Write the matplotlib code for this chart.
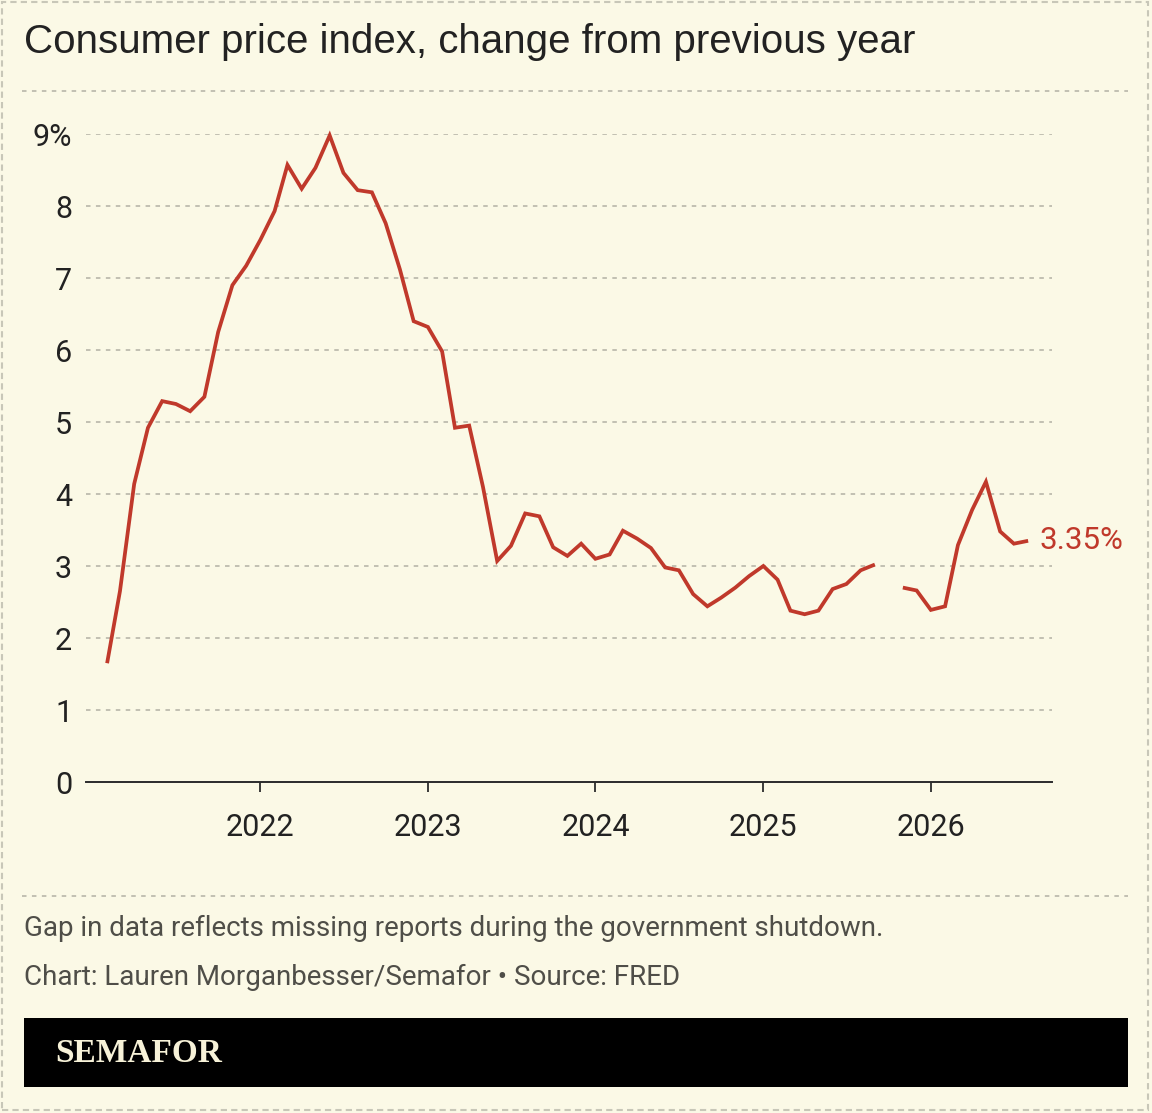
import numpy as np
import pandas as pd
import matplotlib
matplotlib.use("Agg")
import matplotlib.pyplot as plt
from matplotlib.lines import Line2D
from matplotlib.patches import Rectangle

# ---------------- data ----------------
start_month = "2021-02-01"
cpi_yoy = [1.65, 2.65, 4.14, 4.92, 5.29, 5.25, 5.15, 5.35, 6.25, 6.90, 7.17, 7.53,
           7.93, 8.57, 8.24, 8.53, 8.98, 8.46, 8.22, 8.19, 7.76, 7.12, 6.40, 6.32,
           5.98, 4.92, 4.95, 4.10, 3.07, 3.28, 3.73, 3.69, 3.26, 3.14, 3.31, 3.10,
           3.16, 3.49, 3.38, 3.25, 2.98, 2.94, 2.61, 2.44, 2.56, 2.70, 2.86, 3.00,
           2.81, 2.38, 2.33, 2.38, 2.68, 2.75, 2.94, 3.02, np.nan, 2.70, 2.66, 2.39,
           2.44, 3.29, 3.78, 4.17, 3.48, 3.31, 3.35]
year_ticks = [2022, 2023, 2024, 2025, 2026]
y_ticks = [0, 1, 2, 3, 4, 5, 6, 7, 8, 9]
last_label = "3.35%"
title = "Consumer price index, change from previous year"
note = "Gap in data reflects missing reports during the government shutdown."
credit = "Chart: Lauren Morganbesser/Semafor \u2022 Source: FRED"
brand = "SEMAFOR"

dates = pd.date_range(start_month, periods=len(cpi_yoy), freq="MS")

# ---------------- style ----------------
W, H = 1152, 1113
BG = "#fbf9e6"
RED = "#c0392b"
GRID = "#bdbcae"
TXT = "#222222"
NOTE = "#4f4e48"
TICKFAM = ["Roboto", "DejaVu Sans"]

fig = plt.figure(figsize=(W / 100, H / 100), dpi=100, facecolor=BG)


def fx(x):
    return x / W


def fy(y):
    return 1 - y / H


ax = fig.add_axes([fx(86), fy(782), (1052 - 86) / W, (782 - 134) / H])
ax.set_facecolor(BG)

ax.plot(dates, cpi_yoy, color=RED, lw=2.7, solid_joinstyle="miter",
        solid_capstyle="butt", clip_on=False, zorder=3)

ax.set_ylim(0, 9)
ax.set_xlim(dates[0] - pd.Timedelta(days=46), dates[-1] + pd.Timedelta(days=52))

ax.set_yticks(y_ticks)
ax.set_yticklabels([f"{v}%" if v == y_ticks[-1] else f"{v}" for v in y_ticks])
ax.set_xticks([pd.Timestamp(f"{y}-01-01") for y in year_ticks])
ax.set_xticklabels([str(y) for y in year_ticks])

for v in y_ticks[1:]:
    ax.axhline(v, color=GRID, lw=1.3, ls=(0, (2.5, 3)), zorder=1)

for s in ["top", "right", "left"]:
    ax.spines[s].set_visible(False)
ax.spines["bottom"].set_color("#2b2b2b")
ax.spines["bottom"].set_linewidth(1.4)
ax.spines["bottom"].set_zorder(2)

ax.tick_params(axis="y", length=0, pad=10, labelcolor=TXT)
ax.tick_params(axis="x", length=7, width=1.3, color="#2b2b2b", pad=15, labelcolor=TXT)
for lab in ax.get_yticklabels() + ax.get_xticklabels():
    lab.set_fontfamily(TICKFAM)
    lab.set_fontsize(22)

ax.annotate(last_label, xy=(dates[-1], cpi_yoy[-1]), xytext=(8, 0),
            textcoords="offset points", va="center", ha="left",
            color=RED, fontsize=22.5, family=TICKFAM,
            annotation_clip=False)

# ---------------- figure decorations ----------------
fig.text(fx(24), fy(42), title, ha="left", va="center", color=TXT,
         fontsize=29, family=["Liberation Sans", "DejaVu Sans"])

for yy in (91, 896):
    fig.add_artist(Line2D([fx(22), fx(1128)], [fy(yy), fy(yy)],
                          transform=fig.transFigure, color=GRID, lw=1.3,
                          ls=(0, (2.5, 3))))

frame = Rectangle((fx(2), fy(1110)), fx(1148) - fx(2), fy(2) - fy(1110),
                  transform=fig.transFigure, fill=False, edgecolor="#c8c7b8",
                  lw=1.5, ls=(0, (3, 2)))
fig.add_artist(frame)

fig.text(fx(24), fy(928), note, ha="left", va="center", color=NOTE,
         fontsize=20, family=TICKFAM)
fig.text(fx(24), fy(977), credit, ha="left", va="center", color=NOTE,
         fontsize=20, family=TICKFAM)

bar = Rectangle((fx(24), fy(1087)), fx(1128) - fx(24), fy(1018) - fy(1087),
                transform=fig.transFigure, facecolor="black", edgecolor="none")
fig.add_artist(bar)
fig.text(fx(55), fy(1053), brand, ha="left", va="center", color="#f7f2d8",
         fontsize=24, fontweight="bold", family=["Liberation Serif", "DejaVu Serif"])

fig.savefig("out.png", dpi=100, facecolor=BG)
